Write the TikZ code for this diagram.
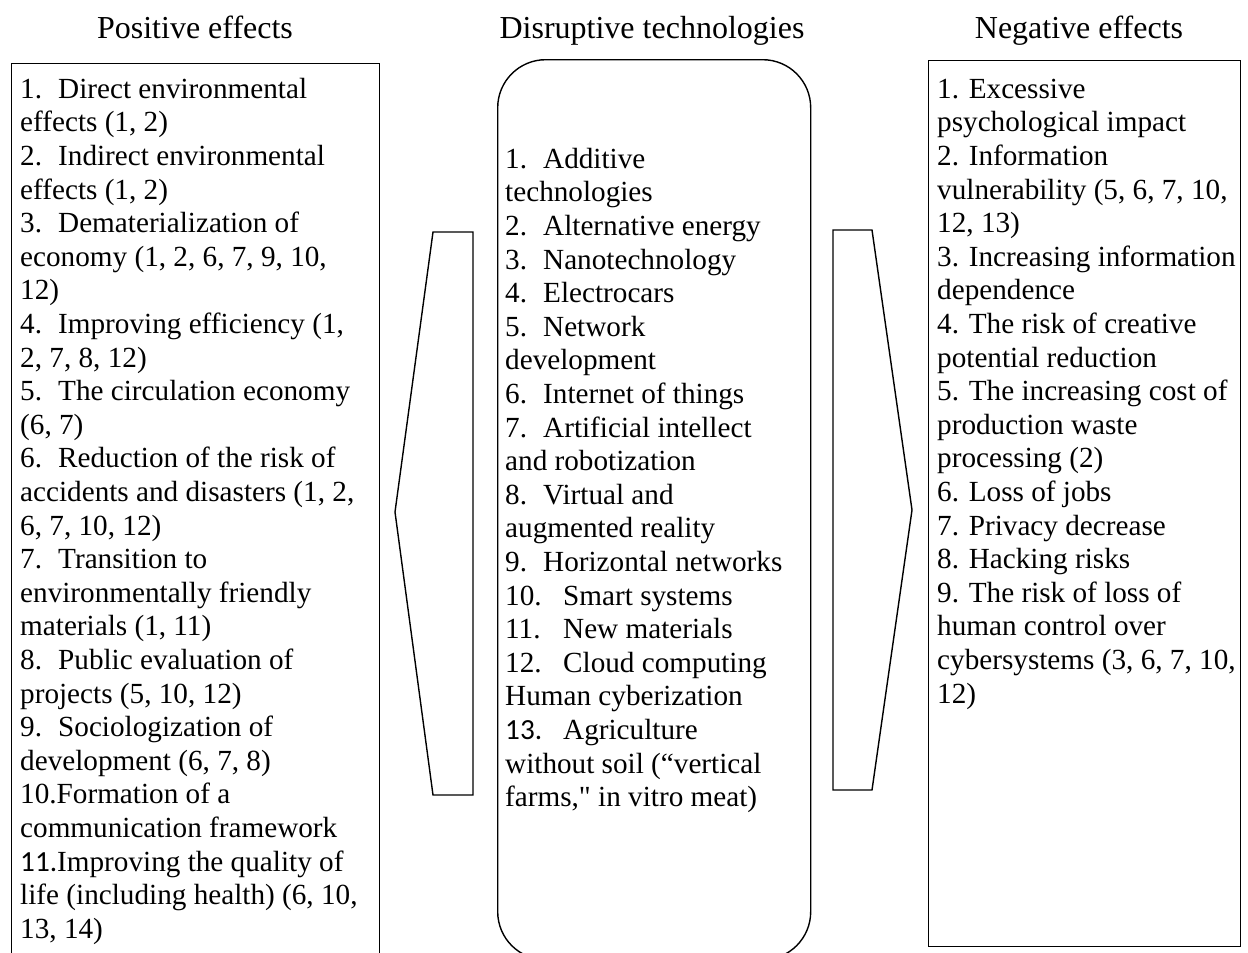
\documentclass[tikz,border=0pt]{standalone}
\usepackage{fontspec}
\setmainfont{Liberation Serif}
\newfontfamily\calfont{Carlito}
\usetikzlibrary{positioning}
\newcommand{\bodyfont}{\fontsize{29.2}{33.6}\selectfont}
\newcommand{\headfont}{\fontsize{32}{36}\selectfont}
\newcommand{\numlab}[2][38pt]{\makebox[#1][l]{#2}}
\tikzset{
  listbox/.style={draw, line width=1.4pt, inner sep=0pt, anchor=north west},
  techbox/.style={draw, line width=1.4pt, inner sep=0pt, anchor=north west,
                  rounded corners=48pt},
  listtext/.style={anchor=north west, align=left, inner sep=0pt, font=\bodyfont},
  headtext/.style={anchor=base, inner sep=0pt, font=\headfont},
  effarrow/.style={draw, line width=1.4pt, line join=miter}}

\begin{document}
\begin{tikzpicture}[x=1pt, y=-1pt]
    \path[use as bounding box] (0,0) rectangle (1248,953);
    \clip (0,0) rectangle (1248,953);
    % headings
    \node[headtext] (poshead) at (195,38) {Positive effects};
    \node[headtext] (techhead) at (652,38) {Disruptive technologies};
    \node[headtext] (neghead) at (1079,38) {Negative effects};
    % the three panels
    \node[listbox, minimum width=368pt, minimum height=920pt] (posbox) at (11,63) {};
    \node[techbox, minimum width=313pt, minimum height=900pt] (techbox) at (497,59) {};
    \node[listbox, minimum width=312pt, minimum height=886pt] (negbox) at (928,60) {};
    \node[listtext] (poslist) at (20,74.5)
      {\strut\numlab{1.}Direct environmental\\
       effects (1, 2)\\
       \numlab{2.}Indirect environmental\\
       effects (1, 2)\\
       \numlab{3.}Dematerialization of\\
       economy (1, 2, 6, 7, 9, 10,\\
       12)\\
       \numlab{4.}Improving efficiency (1,\\
       2, 7, 8, 12)\\
       \numlab{5.}The circulation economy\\
       (6, 7)\\
       \numlab{6.}Reduction of the risk of\\
       accidents and disasters (1, 2,\\
       6, 7, 10, 12)\\
       \numlab{7.}Transition to\\
       environmentally friendly\\
       materials (1, 11)\\
       \numlab{8.}Public evaluation of\\
       projects (5, 10, 12)\\
       \numlab{9.}Sociologization of\\
       development (6, 7, 8)\\
       10.Formation of a\\
       communication framework\\
       {\calfont 11.}Improving the quality of\\
       life (including health) (6, 10,\\
       13, 14)};
    \node[listtext] (techlist) at (505,144.5)
      {\strut\numlab{1.}Additive\\
       technologies\\
       \numlab{2.}Alternative energy\\
       \numlab{3.}Nanotechnology\\
       \numlab{4.}Electrocars\\
       \numlab{5.}Network\\
       development\\
       \numlab{6.}Internet of things\\
       \numlab{7.}Artificial intellect\\
       and robotization\\
       \numlab{8.}Virtual and\\
       augmented reality\\
       \numlab{9.}Horizontal networks\\
       \numlab[58pt]{10.}Smart systems\\
       \numlab[58pt]{11.}New materials\\
       \numlab[58pt]{12.}Cloud computing\\
       Human cyberization\\
       \numlab[58pt]{\calfont 13.}Agriculture\\
       without soil (“vertical\\
       farms,\textquotedbl{} in vitro meat)};
    \node[listtext] (neglist) at (937,74.5)
      {\strut 1. Excessive\\
       psychological impact\\
       2. Information\\
       vulnerability (5, 6, 7, 10,\\
       12, 13)\\
       3. Increasing information\\
       dependence\\
       4. The risk of creative\\
       potential reduction\\
       5. The increasing cost of\\
       production waste\\
       processing (2)\\
       6. Loss of jobs\\
       7. Privacy decrease\\
       8. Hacking risks\\
       9. The risk of loss of\\
       human control over\\
       cybersystems (3, 6, 7, 10,\\
       12)};
    % the two block arrows
    \draw[effarrow] (473,232) -- (433,232) -- (395,512) -- (433,795) -- (473,795) -- cycle;
    \draw[effarrow] (833,230) -- (872,230) -- (912,510) -- (872,790) -- (833,790) -- cycle;
\end{tikzpicture}
\end{document}
